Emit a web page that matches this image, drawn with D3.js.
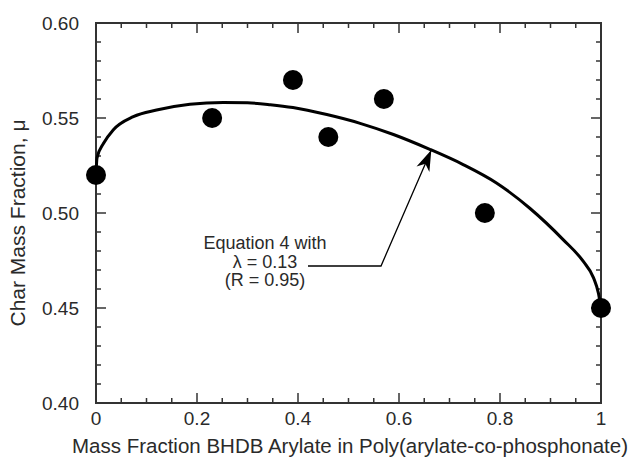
<!DOCTYPE html>
<html>
<head>
<meta charset="utf-8">
<script src="https://cdn.jsdelivr.net/npm/d3@7"></script>
<style>
  html, body { margin: 0; padding: 0; background: #fff; }
  svg { display: block; }
  text { font-family: "Liberation Sans", Arial, Helvetica, sans-serif; fill: #2a2a2a; }
</style>
</head>
<body>
<svg id="chart" width="638" height="458"></svg>
<script>
// measured points (mass fraction BHDB arylate, char mass fraction)
const pointX = [0, 0.23, 0.39, 0.46, 0.57, 0.77, 1.0];
const pointY = [0.52, 0.55, 0.57, 0.54, 0.56, 0.50, 0.45];

// fitted curve (Equation 4, lambda = 0.13)
const curveX = [0, 0.002, 0.015, 0.034, 0.074, 0.12, 0.186, 0.252, 0.30, 0.345, 0.39, 0.457, 0.523, 0.589, 0.661, 0.727, 0.793, 0.859, 0.925, 0.965, 0.985, 0.995, 1.0];
const curveY = [0.52, 0.529, 0.5367, 0.5437, 0.5507, 0.5542, 0.5572, 0.5582, 0.5580, 0.5570, 0.5555, 0.5518, 0.5472, 0.5413, 0.5335, 0.5255, 0.5158, 0.5025, 0.4860, 0.4745, 0.4660, 0.4577, 0.45];

const xMajor = [0, 0.2, 0.4, 0.6, 0.8, 1];
const xMajorLabels = ["0", "0.2", "0.4", "0.6", "0.8", "1"];
const yMajor = [0.40, 0.45, 0.50, 0.55, 0.60];
const yMajorLabels = ["0.40", "0.45", "0.50", "0.55", "0.60"];

const noteLines = ["Equation 4 with", "\u03bb = 0.13", "(R = 0.95)"];

// layout
const L = 96, R = 601, T = 23, B = 403;
const svg = d3.select('#chart');

const x = d3.scaleLinear().domain([0, 1]).range([L, R]);
const y = d3.scaleLinear().domain([0.40, 0.60]).range([B, T]);

const xMinor = d3.range(0, 1.0001, 0.05);
const yMinor = d3.range(0.40, 0.6001, 0.01);

const tickCol = '#333';

// ticks (inward, on all four sides)
const tk = svg.append('g').attr('stroke', tickCol).attr('stroke-width', 1.5);
function isMajorX(v) { return xMajor.some(m => Math.abs(m - v) < 1e-6); }
function isMajorY(v) { return yMajor.some(m => Math.abs(m - v) < 1e-6); }

xMinor.forEach(v => {
  const len = isMajorX(v) ? 10 : 5;
  tk.append('line').attr('x1', x(v)).attr('x2', x(v)).attr('y1', B).attr('y2', B - len);
  tk.append('line').attr('x1', x(v)).attr('x2', x(v)).attr('y1', T).attr('y2', T + len);
});
yMinor.forEach(v => {
  const len = isMajorY(v) ? 10 : 5;
  tk.append('line').attr('y1', y(v)).attr('y2', y(v)).attr('x1', L).attr('x2', L + len);
  tk.append('line').attr('y1', y(v)).attr('y2', y(v)).attr('x1', R).attr('x2', R - len);
});

// frame
svg.append('rect')
  .attr('x', L).attr('y', T).attr('width', R - L).attr('height', B - T)
  .attr('fill', 'none').attr('stroke', tickCol).attr('stroke-width', 2);

// tick labels
svg.append('g').selectAll('text').data(xMajor).join('text')
  .attr('x', d => x(d)).attr('y', 425)
  .attr('text-anchor', 'middle').attr('font-size', 19)
  .text((d, i) => xMajorLabels[i]);

svg.append('g').selectAll('text').data(yMajor).join('text')
  .attr('x', 79).attr('y', d => y(d) + 6.5)
  .attr('text-anchor', 'end').attr('font-size', 19)
  .text((d, i) => yMajorLabels[i]);

// axis titles
svg.append('text')
  .attr('x', 350).attr('y', 453)
  .attr('text-anchor', 'middle')
  .attr('font-size', 20.5)
  .text('Mass Fraction BHDB Arylate in Poly(arylate-co-phosphonate)');

svg.append('text')
  .attr('transform', 'translate(25,223) rotate(-90)')
  .attr('text-anchor', 'middle')
  .attr('font-size', 21)
  .text('Char Mass Fraction, \u03bc');

// fitted curve
const curveData = curveX.map((v, i) => [v, curveY[i]]);
svg.append('path')
  .datum(curveData)
  .attr('fill', 'none').attr('stroke', '#000').attr('stroke-width', 3)
  .attr('stroke-linejoin', 'round')
  .attr('d', d3.line().x(d => x(d[0])).y(d => y(d[1])).curve(d3.curveMonotoneX));

// data points
svg.append('g').selectAll('circle').data(pointX).join('circle')
  .attr('cx', d => x(d)).attr('cy', (d, i) => y(pointY[i]))
  .attr('r', 10).attr('fill', '#000');

// annotation
svg.append('defs').append('marker')
  .attr('id', 'arrow').attr('viewBox', '-22 -8 24 16')
  .attr('refX', 0).attr('refY', 0)
  .attr('markerWidth', 24).attr('markerHeight', 16)
  .attr('markerUnits', 'userSpaceOnUse')
  .attr('orient', 'auto')
  .append('path').attr('d', 'M0,0 L-21,-7 L-15,0 L-21,7 Z').attr('fill', '#000');

const tipX = 0.664, tipY = 0.5332;
svg.append('path')
  .attr('d', `M308,266 L381,266 L${x(tipX)},${y(tipY)}`)
  .attr('fill', 'none').attr('stroke', '#000').attr('stroke-width', 1.3)
  .attr('marker-end', 'url(#arrow)');

svg.append('g').selectAll('text').data(noteLines).join('text')
  .attr('x', 265).attr('y', (d, i) => 249 + i * 18.5)
  .attr('text-anchor', 'middle').attr('font-size', 18)
  .text(d => d);
</script>
</body>
</html>
